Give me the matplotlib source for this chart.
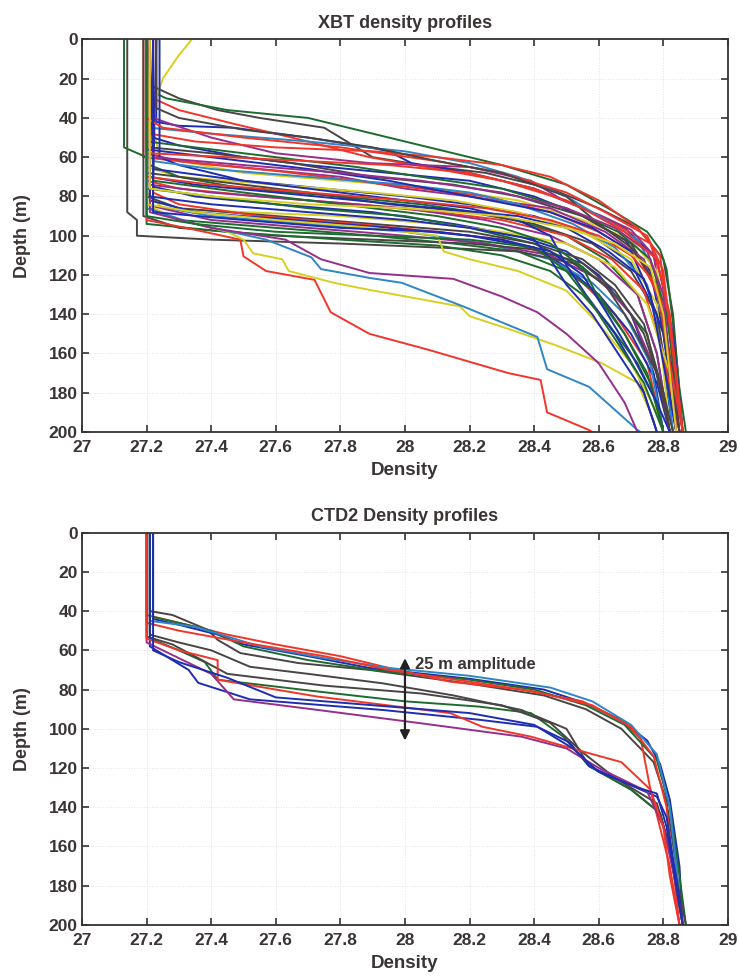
import matplotlib
matplotlib.use("Agg")
import matplotlib.pyplot as plt
from matplotlib.ticker import FormatStrFormatter

# ---------------- data ----------------
# MATLAB-style colour codes
palette = {"b": "#1f2db0", "g": "#1e6b30", "r": "#f0362a", "c": "#2f86c6",
           "m": "#962f8c", "y": "#d8cf22", "k": "#4a4545"}

# XBT profiles: (density, depth) knots
xbt_profiles = [
    ("k", [(27.22,0),(27.22,24),(27.3,30),(27.42,36),(27.55,40),(27.75,45),(27.82,52),(27.9,60),(28.05,64),(28.25,68),(28.45,76),(28.6,86),(28.72,96),(28.8,112),(28.83,140),(28.86,200)]),
    ("g", [(27.2,0),(27.21,26),(27.26,30),(27.45,36),(27.7,40),(27.9,48),(28.1,56),(28.3,64),(28.5,74),(28.65,88),(28.75,98),(28.79,107),(28.81,117),(28.83,145),(28.85,178),(28.87,200)]),
    ("b", [(27.23,0),(27.23,42),(27.3,44),(27.47,45),(27.7,50),(27.89,55),(27.95,57),(28.02,63),(28.2,68),(28.4,76),(28.55,86),(28.68,96),(28.78,112),(28.83,150),(28.86,200)]),
    ("r", [(27.2,0),(27.22,30),(27.3,36),(27.47,43),(27.65,50),(27.89,60),(28.1,66),(28.3,72),(28.5,82),(28.65,94),(28.76,104),(28.8,125),(28.84,170),(28.86,200)]),
    ("m", [(27.22,0),(27.22,40),(27.4,50),(27.6,58),(27.89,63),(28.2,65),(28.39,72),(28.49,82),(28.61,90),(28.7,97),(28.77,110),(28.8,140),(28.84,200)]),
    ("c", [(27.2,0),(27.21,45),(27.4,48),(27.7,52),(28.0,57),(28.2,63),(28.35,70),(28.5,80),(28.62,92),(28.72,102),(28.78,120),(28.82,160),(28.85,200)]),
    ("y", [(27.34,0),(27.3,8),(27.25,20),(27.23,30),(27.22,45),(27.24,60),(27.5,68),(27.8,72),(28.1,76),(28.35,82),(28.55,92),(28.7,102),(28.78,118),(28.82,150),(28.84,200)]),
    ("r", [(27.21,0),(27.21,48),(27.35,52),(27.6,55),(27.9,57),(28.1,60),(28.3,64),(28.45,70),(28.6,82),(28.72,96),(28.79,110),(28.82,150),(28.85,200)]),
    ("b", [(27.22,0),(27.22,50),(27.3,54),(27.5,60),(27.7,64),(27.95,68),(28.2,72),(28.4,80),(28.55,90),(28.68,102),(28.76,118),(28.8,150),(28.84,200)]),
    ("g", [(27.2,0),(27.2,52),(27.35,55),(27.6,60),(27.85,65),(28.05,70),(28.3,76),(28.5,86),(28.66,98),(28.76,112),(28.81,140),(28.86,200)]),
    ("k", [(27.21,0),(27.21,55),(27.4,58),(27.65,63),(27.9,70),(28.15,74),(28.35,80),(28.55,90),(28.7,104),(28.78,125),(28.83,170),(28.85,200)]),
    ("m", [(27.2,0),(27.2,58),(27.3,62),(27.55,66),(27.8,70),(28.0,76),(28.2,80),(28.45,86),(28.62,98),(28.74,112),(28.8,140),(28.84,200)]),
    ("r", [(27.19,0),(27.19,60),(27.35,63),(27.6,67),(27.85,72),(28.05,76),(28.25,80),(28.45,88),(28.6,98),(28.72,110),(28.8,135),(28.84,200)]),
    ("b", [(27.24,0),(27.24,60),(27.3,64),(27.5,72),(27.75,76),(28.0,80),(28.2,84),(28.4,90),(28.58,100),(28.7,114),(28.78,140),(28.83,200)]),
    ("c", [(27.22,0),(27.22,62),(27.4,66),(27.7,70),(28.0,74),(28.2,78),(28.35,84),(28.52,94),(28.65,106),(28.75,125),(28.8,160),(28.83,200)]),
    ("y", [(27.2,0),(27.2,65),(27.3,70),(27.6,74),(27.9,78),(28.15,82),(28.35,88),(28.55,98),(28.7,112),(28.78,135),(28.82,200)]),
    ("g", [(27.21,0),(27.21,64),(27.3,70),(27.5,76),(27.8,80),(28.05,84),(28.3,90),(28.5,100),(28.62,112),(28.72,130),(28.78,160),(28.82,200)]),
    ("k", [(27.2,0),(27.2,68),(27.4,72),(27.7,78),(27.95,84),(28.2,88),(28.4,94),(28.58,104),(28.7,118),(28.78,140),(28.84,200)]),
    ("b", [(27.22,0),(27.21,70),(27.35,74),(27.6,78),(27.85,82),(28.1,86),(28.35,90),(28.5,96),(28.63,108),(28.74,122),(28.8,150),(28.85,200)]),
    ("r", [(27.2,0),(27.2,72),(27.3,76),(27.55,80),(27.85,84),(28.1,88),(28.3,92),(28.5,100),(28.64,112),(28.74,128),(28.8,160),(28.85,200)]),
    ("m", [(27.21,0),(27.21,74),(27.4,78),(27.7,82),(28.0,86),(28.25,92),(28.45,100),(28.6,112),(28.72,130),(28.78,160),(28.82,200)]),
    ("b", [(27.23,0),(27.22,75),(27.35,80),(27.6,84),(27.9,88),(28.15,94),(28.35,100),(28.5,108),(28.6,120),(28.7,140),(28.77,170),(28.8,200)]),
    ("g", [(27.2,0),(27.2,76),(27.4,80),(27.7,86),(28.0,90),(28.2,96),(28.4,104),(28.55,116),(28.65,130),(28.75,150),(28.82,200)]),
    ("y", [(27.21,0),(27.2,78),(27.25,86),(27.5,88),(27.8,90),(28.1,94),(28.3,98),(28.5,104),(28.65,116),(28.75,135),(28.82,170),(28.84,200)]),
    ("k", [(27.2,0),(27.2,80),(27.3,86),(27.6,90),(27.9,94),(28.2,98),(28.4,104),(28.55,112),(28.65,125),(28.74,145),(28.8,180),(28.82,200)]),
    ("r", [(27.22,0),(27.22,78),(27.3,84),(27.55,90),(27.85,94),(28.1,98),(28.3,102),(28.45,110),(28.55,124),(28.65,140),(28.75,165),(28.8,200)]),
    ("b", [(27.21,0),(27.21,82),(27.35,88),(27.65,92),(27.95,96),(28.2,100),(28.4,106),(28.5,116),(28.6,130),(28.7,150),(28.78,175),(28.82,200)]),
    ("c", [(27.2,0),(27.2,84),(27.4,90),(27.7,94),(28.0,98),(28.25,104),(28.45,112),(28.58,124),(28.68,140),(28.76,165),(28.8,200)]),
    ("m", [(27.22,0),(27.22,85),(27.4,92),(27.7,96),(28.0,100),(28.25,104),(28.45,110),(28.6,122),(28.7,140),(28.78,170),(28.82,200)]),
    ("g", [(27.21,0),(27.21,86),(27.3,92),(27.6,96),(27.9,100),(28.15,104),(28.35,108),(28.5,118),(28.6,130),(28.68,150),(28.76,175),(28.8,200)]),
    ("k", [(27.14,0),(27.14,88),(27.17,92),(27.17,100),(27.4,102),(27.8,104),(28.1,106),(28.35,108),(28.52,114),(28.62,125),(28.7,145),(28.78,170),(28.82,200)]),
    ("k", [(27.19,0),(27.19,90),(27.3,96),(27.6,100),(27.9,102),(28.2,104),(28.4,107),(28.55,114),(28.65,128),(28.74,150),(28.8,180),(28.83,200)]),
    ("g", [(27.13,0),(27.13,55),(27.2,60),(27.2,94),(27.45,98),(27.8,102),(28.1,105),(28.3,110),(28.45,118),(28.55,130),(28.63,145),(28.72,165),(28.78,185),(28.8,200)]),
    ("r", [(27.2,0),(27.2,92),(27.35,97),(27.49,102),(27.5,110.5),(27.57,118),(27.72,122.5),(27.77,139),(27.89,150),(28.07,158),(28.32,170),(28.42,173.5),(28.44,190),(28.57,199),(28.58,200)]),
    ("y", [(27.21,0),(27.21,85),(27.3,92),(27.45,98),(27.5,102),(27.53,109),(27.62,112),(27.64,118),(27.78,124),(27.89,127.6),(28.17,136),(28.2,141),(28.33,148),(28.47,156),(28.61,165),(28.72,175),(28.77,194),(28.78,200)]),
    ("c", [(27.2,0),(27.2,86),(27.35,94),(27.57,102),(27.71,111),(27.74,117),(27.89,121.5),(27.99,124),(28.18,136),(28.41,151.6),(28.44,168),(28.57,177),(28.72,199),(28.73,200)]),
    ("m", [(27.21,0),(27.21,88),(27.4,96),(27.63,102),(27.74,112),(27.89,119),(28.15,122),(28.3,131),(28.41,139),(28.5,150),(28.6,165),(28.68,185),(28.72,200)]),
    ("b", [(27.22,0),(27.22,66),(27.5,72),(27.8,78),(28.0,82),(28.2,86),(28.35,92),(28.45,100),(28.5,115),(28.56,130),(28.65,150),(28.72,170),(28.78,200)]),
    ("y", [(27.2,0),(27.2,84),(27.35,88),(27.6,92),(27.9,96),(28.1,100),(28.12,108),(28.2,112),(28.35,118),(28.5,128),(28.6,145),(28.7,165),(28.78,190),(28.8,200)]),
    ("g", [(27.22,0),(27.22,72),(27.5,78),(27.8,84),(28.1,90),(28.3,96),(28.45,104),(28.55,116),(28.6,132),(28.68,150),(28.75,170),(28.8,200)]),
    ("r", [(27.2,0),(27.2,40),(27.25,45),(27.5,50),(27.8,55),(28.1,62),(28.3,68),(28.5,78),(28.62,88),(28.75,100),(28.8,118),(28.83,160),(28.86,200)]),
    ("b", [(27.2,0),(27.2,56),(27.4,60),(27.7,66),(27.95,72),(28.2,80),(28.45,88),(28.58,96),(28.7,108),(28.76,130),(28.8,165),(28.84,200)]),
    ("k", [(27.23,0),(27.23,35),(27.3,40),(27.5,46),(27.7,50),(27.9,55),(28.1,62),(28.3,68),(28.5,80),(28.6,94),(28.7,106),(28.78,125),(28.82,170),(28.85,200)]),
    ("m", [(27.22,0),(27.22,60),(27.5,64),(27.8,68),(28.05,72),(28.3,78),(28.5,86),(28.65,96),(28.75,108),(28.8,130),(28.84,200)]),
    ("b", [(27.21,0),(27.21,80),(27.4,84),(27.7,88),(28.0,92),(28.2,96),(28.4,102),(28.45,112),(28.5,125),(28.58,140),(28.66,160),(28.74,180),(28.78,200)]),
    ("r", [(27.2,0),(27.2,70),(27.4,74),(27.7,78),(28.0,82),(28.25,86),(28.45,92),(28.6,100),(28.7,110),(28.78,125),(28.82,165),(28.86,200)]),
    ("g", [(27.2,0),(27.2,90),(27.35,94),(27.6,98),(27.9,100),(28.2,102),(28.4,106),(28.5,118),(28.58,135),(28.66,155),(28.74,175),(28.8,200)]),
    ("b", [(27.22,0),(27.22,88),(27.5,92),(27.8,96),(28.1,98),(28.3,102),(28.45,108),(28.55,120),(28.62,138),(28.7,160),(28.78,185),(28.82,200)]),
    ("r", [(27.21,0),(27.21,58),(27.45,60),(27.7,62),(27.95,64),(28.2,68),(28.4,76),(28.55,86),(28.68,98),(28.78,112),(28.82,140),(28.86,200)]),
    ("y", [(27.21,0),(27.21,76),(27.4,80),(27.7,84),(28.0,86),(28.3,90),(28.5,96),(28.65,104),(28.76,116),(28.8,140),(28.84,200)]),
]

# CTD2 profiles: (density, depth) knots
ctd_profiles = [
    ("k", [(27.21,0),(27.21,40),(27.28,42),(27.39,49.6),(27.42,54.7),(27.49,61.4),(27.67,66.5),(27.89,70),(28.2,77),(28.43,83),(28.56,90),(28.67,100),(28.77,117),(28.81,137),(28.84,170),(28.86,200)]),
    ("b", [(27.22,0),(27.22,44),(27.3,47),(27.42,52),(27.5,57),(27.7,63),(27.89,69),(28.2,74.5),(28.43,80),(28.56,87),(28.67,95.6),(28.75,106),(28.79,118),(28.82,136),(28.85,170),(28.86,200)]),
    ("r", [(27.2,0),(27.2,42),(27.3,46),(27.45,52),(27.6,57),(27.8,63),(28.0,71),(28.14,76),(28.36,80),(28.55,86),(28.67,96),(28.73,105),(28.76,131),(28.82,170),(28.85,200)]),
    ("g", [(27.22,0),(27.22,43),(27.3,46),(27.4,50),(27.5,58),(27.7,65),(27.9,70),(28.2,75),(28.4,80),(28.56,88),(28.68,98),(28.78,116),(28.82,140),(28.85,175),(28.87,200)]),
    ("c", [(27.21,0),(27.21,45),(27.35,48),(27.45,53),(27.55,58),(27.75,64),(27.95,69),(28.2,73),(28.45,79),(28.58,86),(28.7,98),(28.78,113),(28.82,140),(28.86,200)]),
    ("r", [(27.2,0),(27.2,46),(27.3,50),(27.5,56),(27.75,63),(27.95,70),(28.2,76),(28.4,81),(28.58,88),(28.7,99),(28.77,114),(28.81,140),(28.85,200)]),
    ("k", [(27.21,0),(27.21,52),(27.3,56),(27.4,60),(27.52,68.4),(27.7,72),(27.93,76.8),(28.15,83),(28.36,90.4),(28.5,100),(28.57,119),(28.7,131),(28.79,143),(28.82,162),(28.86,200)]),
    ("g", [(27.21,0),(27.21,54),(27.3,60),(27.38,66),(27.42,75),(27.73,81),(28.0,86),(28.23,88.7),(28.39,92),(28.49,104),(28.57,119),(28.7,131),(28.79,143),(28.82,162),(28.86,200)]),
    ("k", [(27.2,0),(27.2,53),(27.28,57),(27.36,64),(27.45,72),(27.75,78),(28.05,82),(28.3,88),(28.45,97),(28.55,112),(28.65,125),(28.78,138),(28.82,160),(28.87,200)]),
    ("b", [(27.21,0),(27.21,58),(27.25,62),(27.33,70),(27.36,76.6),(27.52,85),(27.93,90.4),(28.23,95.4),(28.41,99),(28.51,107),(28.57,119),(28.73,131),(28.78,134.6),(28.81,145),(28.85,187),(28.86,200)]),
    ("m", [(27.2,0),(27.2,56),(27.3,64),(27.4,72),(27.47,85),(27.73,90.4),(28.04,97),(28.36,104),(28.5,110),(28.6,120),(28.75,132),(28.8,150),(28.84,180),(28.86,200)]),
    ("r", [(27.2,0),(27.2,54),(27.3,60),(27.42,65),(27.42,75),(27.73,83.6),(28.14,92),(28.24,99),(28.39,104),(28.56,112),(28.67,117),(28.76,131),(28.8,150),(28.82,175),(28.85,200)]),
    ("b", [(27.22,0),(27.22,60),(27.3,66),(27.45,74),(27.6,84),(27.9,88),(28.2,92),(28.4,98),(28.52,110),(28.6,122),(28.72,130),(28.78,133),(28.81,150),(28.86,200)]),
]

x_ticks = [27, 27.2, 27.4, 27.6, 27.8, 28, 28.2, 28.4, 28.6, 28.8, 29]
y_ticks = [0, 20, 40, 60, 80, 100, 120, 140, 160, 180, 200]
titles = ["XBT density profiles", "CTD2 Density profiles"]
xlabel = "Density"
ylabel = "Depth (m)"
arrow_x = 28.0
arrow_depths = (64, 106)
arrow_text = "25 m amplitude"
arrow_text_pos = (28.03, 67)

# ---------------- plotting ----------------
plt.rcParams["font.family"] = ["Liberation Sans", "DejaVu Sans"]
txt = "#3a3434"

fig = plt.figure(figsize=(7.39, 9.76), dpi=100)
ax1 = fig.add_axes([0.111, 0.5574, 0.874, 0.4022])
ax2 = fig.add_axes([0.111, 0.0523, 0.874, 0.4020])

for ax, profiles, title in [(ax1, xbt_profiles, titles[0]), (ax2, ctd_profiles, titles[1])]:
    for code, pts in profiles:
        dens = [p[0] for p in pts]
        dep = [p[1] for p in pts]
        ax.plot(dens, dep, color=palette[code], lw=1.4, solid_joinstyle="round")
    ax.set_xlim(27, 29)
    ax.set_ylim(200, 0)
    ax.set_xticks(x_ticks)
    ax.set_yticks(y_ticks)
    ax.xaxis.set_major_formatter(FormatStrFormatter("%g"))
    ax.grid(True, linestyle=":", color="#e2e2e2", lw=0.7)
    ax.tick_params(direction="in", top=True, right=True, length=5, width=1.2,
                   colors="#333333", labelsize=12.5, labelcolor=txt)
    ax.tick_params(axis="x", pad=6)
    ax.tick_params(axis="y", pad=3)
    for lab in ax.get_xticklabels() + ax.get_yticklabels():
        lab.set_fontweight("bold")
    for s in ax.spines.values():
        s.set_color("#333333")
        s.set_linewidth(1.3)
    ax.set_title(title, fontsize=13, fontweight="bold", color=txt, pad=8)
    ax.set_xlabel(xlabel, fontsize=13.5, fontweight="bold", color=txt, labelpad=5)
    ax.set_ylabel(ylabel, fontsize=13, fontweight="bold", color=txt, labelpad=13)

ax2.annotate("", xy=(arrow_x, arrow_depths[0]), xytext=(arrow_x, arrow_depths[1]),
             arrowprops=dict(arrowstyle="<|-|>", color="#222222", lw=1.6, mutation_scale=14,
                             shrinkA=0, shrinkB=0))
ax2.text(arrow_text_pos[0], arrow_text_pos[1], arrow_text, fontsize=12, fontweight="bold",
         color=txt, va="center", ha="left")

fig.savefig("out.png", dpi=100)
